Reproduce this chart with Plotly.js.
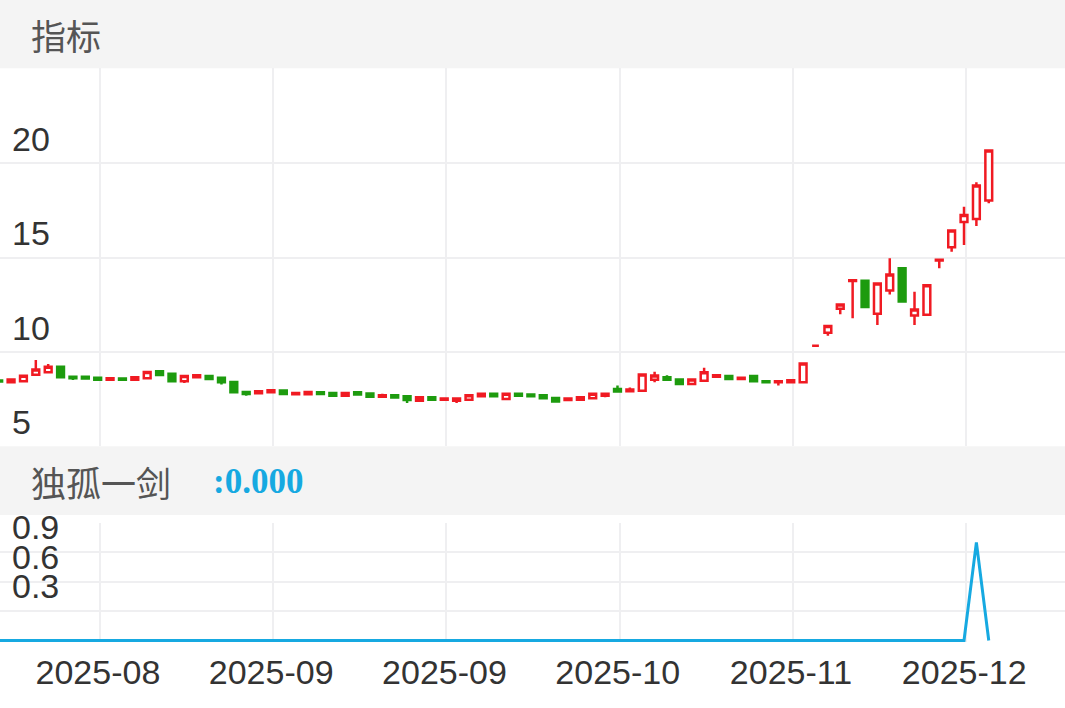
<!DOCTYPE html>
<html>
<head>
<meta charset="utf-8">
<script src="https://cdn.plot.ly/plotly-3.0.1.min.js"></script>
<style>
  html, body { margin: 0; padding: 0; background: #ffffff; }
  #chart { width: 1065px; height: 708px; }
</style>
</head>
<body>
<div id="chart"></div>
<script>
// ---- data ----
const candleIndex = Array.from({length: 81}, (_, i) => i);
const openPrices = [
  8.49, 8.39, 8.45, 8.79, 8.93, 9.21, 8.68, 8.68, 8.63, 8.52,
  8.59, 8.52, 8.61, 8.98, 8.84, 8.45, 8.66, 8.72, 8.63, 8.41,
  7.88, 7.81, 7.86, 7.96, 7.76, 7.76, 7.87, 7.83, 7.68, 7.87,
  7.80, 7.63, 7.71, 7.65, 7.42, 7.60, 7.47, 7.42, 7.47, 7.65,
  7.78, 7.51, 7.78, 7.74, 7.70, 7.56, 7.45, 7.47, 7.54, 7.68,
  8.04, 7.92, 7.95, 8.52, 8.66, 8.54, 8.30, 8.48, 8.69, 8.72,
  8.57, 8.72, 8.45, 8.39, 8.39, 8.39, 10.33, 11.02, 12.29, 13.76,
  13.77, 12.02, 13.25, 14.43, 11.93, 11.97, 14.85, 15.55, 16.88, 17.05,
  18.02
];
const highPrices = [
  8.49, 8.54, 8.74, 9.57, 9.36, 9.21, 8.68, 8.68, 8.63, 8.60,
  8.59, 8.66, 8.97, 8.98, 8.84, 8.72, 8.77, 8.72, 8.63, 8.41,
  7.88, 7.92, 7.97, 7.96, 7.83, 7.88, 7.87, 7.83, 7.83, 7.87,
  7.80, 7.79, 7.71, 7.65, 7.60, 7.60, 7.53, 7.53, 7.71, 7.78,
  7.78, 7.78, 7.78, 7.74, 7.70, 7.56, 7.53, 7.60, 7.78, 7.78,
  8.22, 8.12, 8.81, 8.95, 8.76, 8.54, 8.54, 9.16, 8.77, 8.72,
  8.63, 8.72, 8.45, 8.45, 8.50, 9.39, 10.33, 11.38, 12.52, 13.80,
  13.77, 13.63, 14.96, 14.43, 13.19, 13.54, 14.89, 16.44, 17.70, 18.99,
  20.68
];
const lowPrices = [
  8.43, 8.39, 8.45, 8.79, 8.93, 8.66, 8.51, 8.59, 8.46, 8.46,
  8.52, 8.52, 8.61, 8.78, 8.45, 8.36, 8.62, 8.57, 8.28, 7.86,
  7.68, 7.81, 7.86, 7.77, 7.76, 7.76, 7.77, 7.68, 7.68, 7.74,
  7.63, 7.63, 7.58, 7.30, 7.42, 7.47, 7.47, 7.30, 7.47, 7.65,
  7.65, 7.51, 7.68, 7.65, 7.54, 7.38, 7.45, 7.47, 7.54, 7.60,
  7.90, 7.92, 7.95, 8.40, 8.53, 8.30, 8.30, 8.48, 8.69, 8.57,
  8.57, 8.45, 8.39, 8.22, 8.39, 8.39, 10.33, 10.86, 12.00, 11.79,
  12.38, 11.43, 13.05, 12.67, 11.43, 11.97, 14.43, 15.31, 15.67, 16.67,
  17.88
];
const closePrices = [
  8.43, 8.54, 8.74, 9.07, 9.21, 8.66, 8.61, 8.59, 8.52, 8.60,
  8.52, 8.66, 8.94, 8.78, 8.45, 8.72, 8.77, 8.57, 8.39, 7.86,
  7.77, 7.92, 7.97, 7.77, 7.83, 7.88, 7.77, 7.68, 7.83, 7.74,
  7.63, 7.71, 7.58, 7.45, 7.60, 7.47, 7.53, 7.53, 7.71, 7.78,
  7.65, 7.78, 7.68, 7.65, 7.54, 7.38, 7.53, 7.60, 7.78, 7.78,
  7.90, 8.01, 8.81, 8.75, 8.53, 8.30, 8.54, 8.93, 8.77, 8.57,
  8.63, 8.45, 8.39, 8.45, 8.50, 9.39, 10.33, 11.38, 12.52, 13.80,
  12.38, 13.63, 14.11, 12.67, 12.25, 13.54, 14.89, 16.44, 17.25, 18.82,
  20.68
];
const signalValues = [
  0,0,0,0,0,0,0,0,0,0, 0,0,0,0,0,0,0,0,0,0,
  0,0,0,0,0,0,0,0,0,0, 0,0,0,0,0,0,0,0,0,0,
  0,0,0,0,0,0,0,0,0,0, 0,0,0,0,0,0,0,0,0,0,
  0,0,0,0,0,0,0,0,0,0, 0,0,0,0,0,0,0,0,0,1,
  0
];
const xTickIndex = [8, 22, 36, 50, 64, 78];
const xTickLabels = ['2025-08', '2025-09', '2025-09', '2025-10', '2025-11', '2025-12'];
const priceTicks = [5, 10, 15, 20];
const signalTicks = [0.3, 0.6, 0.9, 1.2];
const signalTickLabels = ['0.3', '0.6', '0.9', ''];
const panelTitle1 = '指标';
const panelTitle2 = '独孤一剑';
const signalReadout = ':0.000';

// ---- style ----
const RED = '#f01a22';
const GREEN = '#1d9b0e';
const BLUE = '#16a9e1';
const GRID = '#efeff1';
const HEAD = '#f4f4f4';
const W = 1065, H = 708, B = 66;
const PH = H - B; // plot area height in px
const py = (px) => 1 - px / PH; // pixel y -> paper y

const traces = [
  {
    type: 'candlestick',
    x: candleIndex,
    open: openPrices, high: highPrices, low: lowPrices, close: closePrices,
    xaxis: 'x', yaxis: 'y',
    increasing: { line: { color: RED, width: 2.5 }, fillcolor: '#ffffff' },
    decreasing: { line: { color: GREEN, width: 2.5 }, fillcolor: GREEN },
    whiskerwidth: 0,
    hoverinfo: 'skip',
    showlegend: false
  },
  {
    type: 'scatter', mode: 'lines',
    x: candleIndex, y: signalValues,
    xaxis: 'x', yaxis: 'y2',
    line: { color: BLUE, width: 3 },
    hoverinfo: 'skip',
    showlegend: false
  }
];

const axisFont = { family: 'Liberation Sans, Arial, sans-serif', size: 34, color: '#333333' };

const layout = {
  width: W, height: H,
  margin: { l: 0, r: 0, t: 0, b: B, pad: 0 },
  paper_bgcolor: '#ffffff',
  plot_bgcolor: '#ffffff',
  showlegend: false,
  boxgap: 0.45,
  boxgroupgap: 0,
  xaxis: {
    anchor: 'y2',
    range: [0.106, 86.16],
    rangeslider: { visible: false },
    tickmode: 'array',
    tickvals: xTickIndex.map(v => v + 0.18),
    ticktext: xTickLabels,
    ticks: '',
    ticklabelstandoff: 7,
    ticklabelshift: -2,
    tickfont: axisFont,
    showgrid: true, gridcolor: GRID, gridwidth: 2,
    zeroline: false, showline: false,
    fixedrange: true
  },
  yaxis: {
    domain: [py(446.3), py(68.3)],
    range: [5, 25.03],
    tickmode: 'array',
    tickvals: priceTicks,
    ticks: '',
    ticklabelposition: 'inside',
    ticklabeloverflow: 'allow',
    ticklabelshift: -24,
    ticklabelstandoff: 9,
    tickfont: axisFont,
    showgrid: true, gridcolor: GRID, gridwidth: 2,
    zeroline: false, showline: false,
    fixedrange: true
  },
  yaxis2: {
    domain: [0, py(522.7)],
    range: [-0.0153, 1.2],
    tickmode: 'array',
    tickvals: signalTicks,
    ticktext: signalTickLabels,
    ticks: '',
    ticklabelposition: 'inside',
    ticklabeloverflow: 'allow',
    ticklabelshift: -25,
    ticklabelstandoff: 9,
    tickfont: axisFont,
    showgrid: true, gridcolor: GRID, gridwidth: 2,
    zeroline: false, showline: false,
    fixedrange: true
  },
  shapes: [
    { type: 'rect', xref: 'paper', yref: 'paper', x0: 0, x1: 1, y0: py(68.3), y1: 1,
      fillcolor: HEAD, line: { width: 0 }, layer: 'below' },
    { type: 'rect', xref: 'paper', yref: 'paper', x0: 0, x1: 1, y0: py(515), y1: py(446.3),
      fillcolor: HEAD, line: { width: 0 }, layer: 'below' }
  ],
  annotations: [
    { xref: 'paper', yref: 'paper', x: 29 / W, y: py(34), xanchor: 'left', yanchor: 'middle',
      text: panelTitle1, showarrow: false,
      font: { family: 'Noto Sans CJK SC, sans-serif', size: 35, color: '#555555' } },
    { xref: 'paper', yref: 'paper', x: 29 / W, y: py(481), xanchor: 'left', yanchor: 'middle',
      text: panelTitle2, showarrow: false,
      font: { family: 'Noto Sans CJK SC, sans-serif', size: 35, color: '#555555' } },
    { xref: 'paper', yref: 'paper', x: 211 / W, y: py(481), xanchor: 'left', yanchor: 'middle',
      text: '<b>' + signalReadout + '</b>', showarrow: false,
      font: { family: 'Liberation Serif, Times New Roman, serif', size: 35, color: BLUE } }
  ]
};

Plotly.newPlot('chart', traces, layout, { staticPlot: true, displayModeBar: false });
</script>
</body>
</html>
